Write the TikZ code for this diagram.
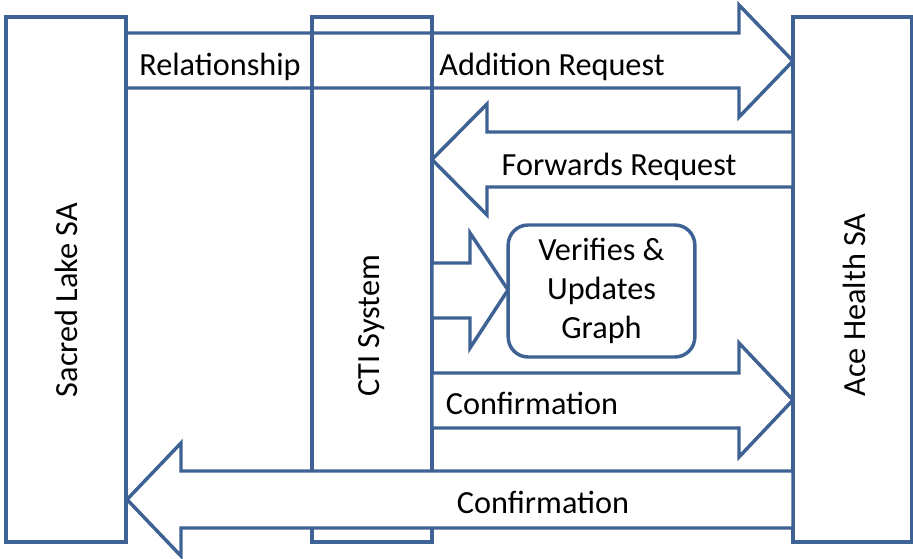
\documentclass[tikz,border=0pt]{standalone}
\usepackage{fontspec}
\setmainfont{Carlito}
\usetikzlibrary{positioning}
\usetikzlibrary{fit}
\definecolor{edgeblue}{RGB}{63,98,148}

\begin{document}
\begin{tikzpicture}[
    x=0.75pt, y=-0.75pt,
    font=\fontsize{24.2}{29.5}\selectfont,
    party/.style={rectangle,draw=edgeblue,line width=2.6pt,inner sep=0pt},
    task/.style={rectangle,rounded corners=15pt,draw=edgeblue,line width=2.6pt,align=center,minimum width=140pt,minimum height=99pt},
    blk/.style={draw=edgeblue,line width=2.6pt,line join=miter,fill=white},
    lbl/.style={anchor=base,inner sep=0pt},
    side/.style={anchor=base,inner sep=0pt,rotate=90}
    ]
    \useasboundingbox (0,0) rectangle (913,558);
    % the first request passes under the CTI column
    \draw[blk] (126,33) -- (739,33) -- (739,5) -- (793,61) -- (739,117) -- (739,88) -- (126,88) -- cycle;
    \node (sacred) [party,fit={(6,17) (126,542)}] {};
    \node (cti) [party,fit={(312,17) (432,542)}] {};
    \node (ace) [party,fit={(793,17) (912,542)}] {};
    \node (sacredlbl) [side] at (77,300) {Sacred Lake SA};
    \node (ctilbl) [side] at (379,326) {CTI System};
    \node (acelbl) [side] at (865,305) {Ace Health SA};
    % ace back to cti
    \draw[blk] (793,132) -- (487,132) -- (487,104) -- (432,159.5) -- (487,215) -- (487,187) -- (793,187) -- cycle;
    \node (graph) [task] at (601.5,291) {Verifies \&\\Updates\\Graph};
    \draw[blk] (432,263) -- (470,263) -- (470,233) -- (508,290) -- (470,348) -- (470,318) -- (432,318) -- cycle;
    \draw[blk] (432,373) -- (739,373) -- (739,343) -- (793,400) -- (739,457) -- (739,428) -- (432,428) -- cycle;
    % final confirmation covers the CTI column
    \draw[blk] (793,471) -- (181,471) -- (181,443) -- (127,499.5) -- (181,556) -- (181,528) -- (793,528) -- cycle;
    \node (rel) [lbl] at (220,75) {Relationship};
    \node (addreq) [lbl] at (552,75) {Addition Request};
    \node (fwdreq) [lbl] at (619,175) {Forwards Request};
    \node (conf) [lbl] at (532,414) {Confirmation};
    \node (finconf) [lbl] at (543,513) {Confirmation};
\end{tikzpicture}
\end{document}
